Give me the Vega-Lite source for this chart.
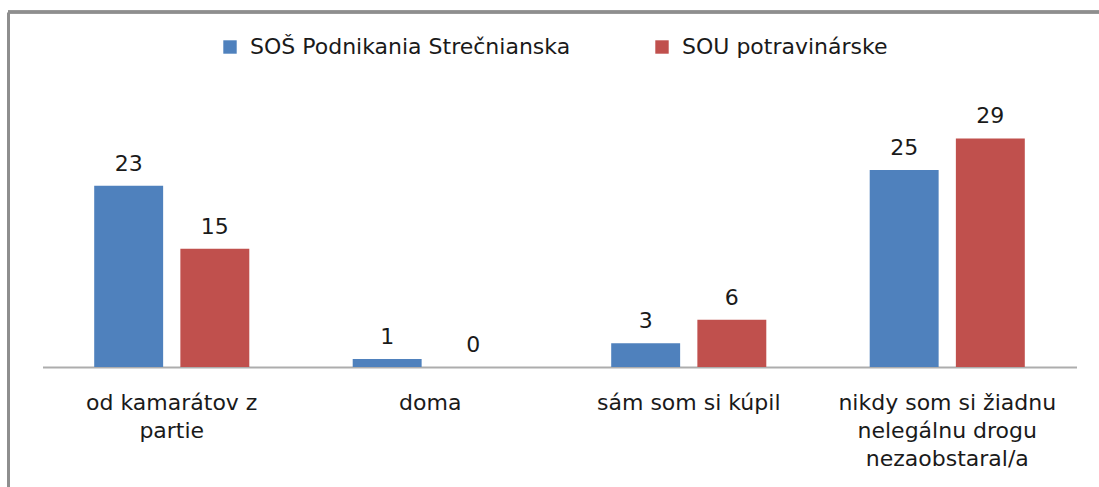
{
  "$schema": "https://vega.github.io/schema/vega-lite/v6.json",
  "autosize": "none",
  "width": 1091,
  "height": 475,
  "padding": {"left": 8, "top": 12, "right": 0, "bottom": 0},
  "background": "white",
  "config": {
    "view": {"stroke": null},
    "font": "DejaVu Sans"
  },
  "data": {
    "values": [
      {"kategoria": "od kamarátov z\npartie", "skola": "SOŠ Podnikania Strečnianska", "pocet": 23},
      {"kategoria": "od kamarátov z\npartie", "skola": "SOU potravinárske", "pocet": 15},
      {"kategoria": "doma", "skola": "SOŠ Podnikania Strečnianska", "pocet": 1},
      {"kategoria": "doma", "skola": "SOU potravinárske", "pocet": 0},
      {"kategoria": "sám som si kúpil", "skola": "SOŠ Podnikania Strečnianska", "pocet": 3},
      {"kategoria": "sám som si kúpil", "skola": "SOU potravinárske", "pocet": 6},
      {"kategoria": "nikdy som si žiadnu\nnelegálnu drogu\nnezaobstaral/a", "skola": "SOŠ Podnikania Strečnianska", "pocet": 25},
      {"kategoria": "nikdy som si žiadnu\nnelegálnu drogu\nnezaobstaral/a", "skola": "SOU potravinárske", "pocet": 29}
    ]
  },
  "encoding": {
    "y": {
      "field": "pocet",
      "type": "quantitative",
      "scale": {"domain": [-15.23, 45.05], "nice": false, "zero": false},
      "axis": {
        "title": null,
        "orient": "left",
        "labels": false,
        "ticks": false,
        "grid": false,
        "values": [45.05],
        "domain": true,
        "domainColor": "#8E8E8E",
        "domainWidth": 3
      }
    }
  },
  "layer": [
    {
      "mark": {"type": "rule", "color": "#8E8E8E", "strokeWidth": 2.5},
      "encoding": {
        "y": {"datum": 45.05}
      }
    },
    {
      "mark": {"type": "bar"},
      "encoding": {
        "x": {
          "field": "kategoria",
          "type": "nominal",
          "sort": null,
          "scale": {"range": [34.5, 1068.5], "paddingInner": 0.4, "paddingOuter": 0.2},
          "axis": {
            "title": null,
            "orient": "bottom",
            "offset": -120,
            "domain": true,
            "domainColor": "#ADADAD",
            "domainWidth": 2,
            "ticks": false,
            "tickSize": 0,
            "labelAngle": 0,
            "labelFont": "DejaVu Sans",
            "labelFontSize": 22,
            "labelColor": "#1a1a1a",
            "labelPadding": 25,
            "labelLineHeight": 28,
            "labelLimit": 400,
            "labelOverlap": false,
            "labelBaseline": "top",
            "labelExpr": "split(datum.label, '\\n')"
          }
        },
        "xOffset": {
          "field": "skola",
          "type": "nominal",
          "sort": ["SOŠ Podnikania Strečnianska", "SOU potravinárske"],
          "scale": {"paddingInner": 0.2, "paddingOuter": 0}
        },
        "y2": {"datum": 0},
        "color": {
          "field": "skola",
          "type": "nominal",
          "scale": {
            "domain": ["SOŠ Podnikania Strečnianska", "SOU potravinárske"],
            "range": ["#4F81BD", "#C0504D"]
          },
          "legend": {
            "title": null,
            "orient": "none",
            "direction": "horizontal",
            "legendX": 211,
            "legendY": 24,
            "symbolType": "square",
            "symbolSize": 180,
            "symbolStrokeWidth": 0,
            "labelFont": "DejaVu Sans",
            "labelFontSize": 22,
            "labelColor": "#1a1a1a",
            "labelOffset": 9,
            "columnPadding": 80,
            "labelLimit": 500,
            "padding": 0
          }
        }
      }
    },
    {
      "mark": {
        "type": "text",
        "font": "DejaVu Sans",
        "fontSize": 22,
        "color": "#1a1a1a",
        "baseline": "alphabetic",
        "dy": -15
      },
      "encoding": {
        "x": {
          "field": "kategoria",
          "type": "nominal",
          "sort": null,
          "scale": {"range": [34.5, 1068.5], "paddingInner": 0.4, "paddingOuter": 0.2},
          "axis": {
            "title": null,
            "orient": "bottom",
            "offset": -120,
            "domain": true,
            "domainColor": "#ADADAD",
            "domainWidth": 2,
            "ticks": false,
            "tickSize": 0,
            "labelAngle": 0,
            "labelFont": "DejaVu Sans",
            "labelFontSize": 22,
            "labelColor": "#1a1a1a",
            "labelPadding": 25,
            "labelLineHeight": 28,
            "labelLimit": 400,
            "labelOverlap": false,
            "labelBaseline": "top",
            "labelExpr": "split(datum.label, '\\n')"
          }
        },
        "xOffset": {
          "field": "skola",
          "type": "nominal",
          "sort": ["SOŠ Podnikania Strečnianska", "SOU potravinárske"],
          "scale": {"paddingInner": 0.2, "paddingOuter": 0}
        },
        "text": {"field": "pocet", "type": "quantitative"}
      }
    }
  ]
}
